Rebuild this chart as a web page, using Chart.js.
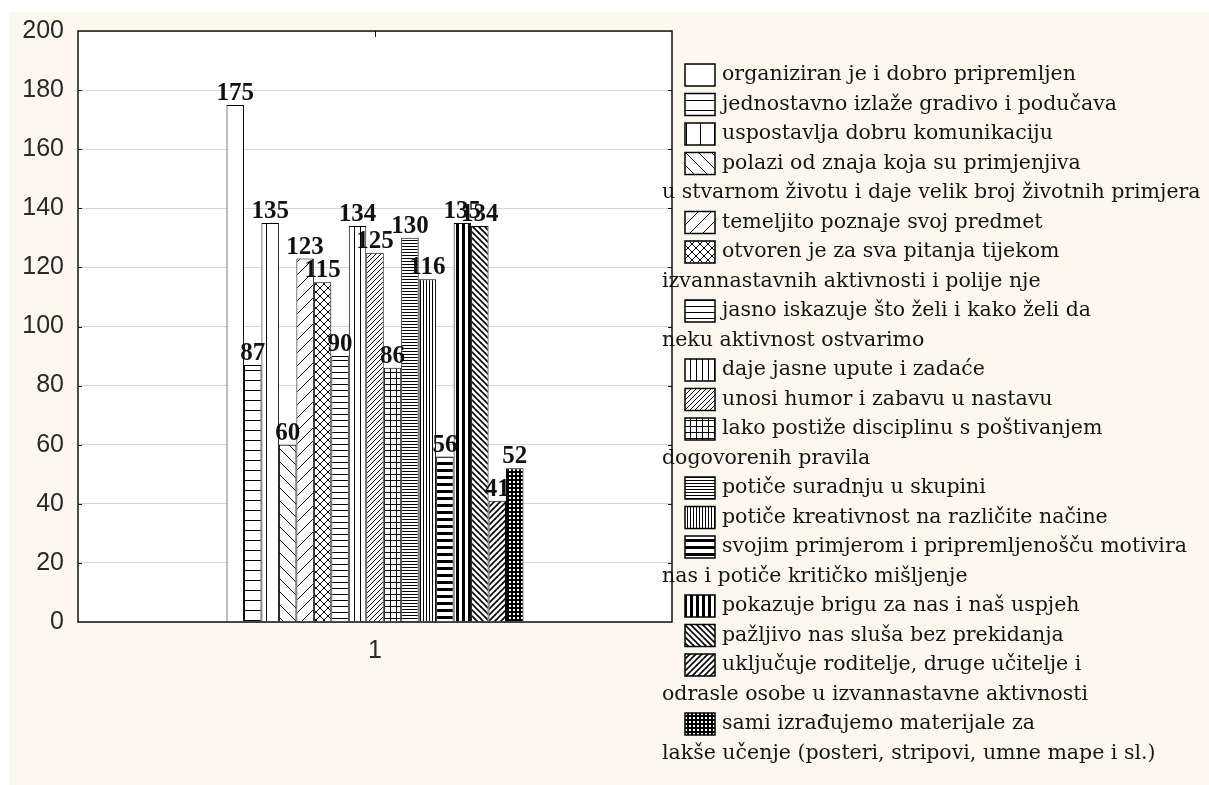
<!DOCTYPE html>
<html>
<head>
<meta charset="utf-8">
<script src="https://cdn.jsdelivr.net/npm/chart.js@4.4.1/dist/chart.umd.min.js"></script>
<style>
  html, body { margin: 0; padding: 0; background: #fff; }
  #wrap { width: 1209px; height: 785px; }
</style>
</head>
<body>
<div id="wrap"><canvas id="chart" width="1209" height="785"></canvas></div>
<script>
// --- Data ---
const categories = ['1'];
const seriesValues = [175, 87, 135, 60, 123, 115, 90, 134, 125, 86, 130, 116, 56, 135, 134, 41, 52];
const seriesNames = [
    'organiziran je i dobro pripremljen',
    'jednostavno izlaže gradivo i podučava',
    'uspostavlja dobru komunikaciju',
    'polazi od znaja koja su primjenjiva\nu stvarnom životu i daje velik broj životnih primjera',
    'temeljito poznaje svoj predmet',
    'otvoren je za sva pitanja tijekom\nizvannastavnih aktivnosti i polije nje',
    'jasno iskazuje što želi i kako želi da\nneku aktivnost ostvarimo',
    'daje jasne upute i zadaće',
    'unosi humor i zabavu u nastavu',
    'lako postiže disciplinu s poštivanjem\ndogovorenih pravila',
    'potiče suradnju u skupini',
    'potiče kreativnost na različite načine',
    'svojim primjerom i pripremljenošču motivira\nnas i potiče kritičko mišljenje',
    'pokazuje brigu za nas i naš uspjeh',
    'pažljivo nas sluša bez prekidanja',
    'uključuje roditelje, druge učitelje i\nodrasle osobe u izvannastavne aktivnosti',
    'sami izrađujemo materijale za\nlakše učenje (posteri, stripovi, umne mape i sl.)'
];
const yMin = 0, yMax = 200, yStep = 20;

// --- Hatch patterns (one per series) ---
const tile = (size, draw) => {
    const c = document.createElement('canvas');
    c.width = size; c.height = size;
    const g = c.getContext('2d');
    g.fillStyle = '#fff';
    g.fillRect(0, 0, size, size);
    g.strokeStyle = '#000';
    g.fillStyle = '#000';
    draw(g, size);
    return document.createElement('canvas').getContext('2d').createPattern(c, 'repeat');
};
const hLines = (gap, w) => tile(gap, (g, s) => g.fillRect(0, 0, s, w));
const vLines = (gap, w) => tile(gap, (g, s) => g.fillRect(0, 0, w, s));
const diag = (gap, w, back) => tile(gap, (g, s) => {
    g.lineWidth = w;
    g.beginPath();
    if (back) {
        g.moveTo(-1, -1); g.lineTo(s + 1, s + 1);
        g.moveTo(-1, s - 1); g.lineTo(1, s + 1);
        g.moveTo(s - 1, -1); g.lineTo(s + 1, 1);
    } else {
        g.moveTo(-1, s + 1); g.lineTo(s + 1, -1);
        g.moveTo(-1, 1); g.lineTo(1, -1);
        g.moveTo(s - 1, s + 1); g.lineTo(s + 1, s - 1);
    }
    g.stroke();
});
const cross = (gap) => tile(gap, (g, s) => {
    g.lineWidth = 1;
    g.beginPath();
    g.moveTo(0, 0); g.lineTo(s, s);
    g.moveTo(0, s); g.lineTo(s, 0);
    g.stroke();
});
const grid = (gap) => tile(gap, (g, s) => { g.fillRect(0, 0, s, 1); g.fillRect(0, 0, 1, s); });
const dots = (gap) => tile(gap, (g, s) => {
    g.fillRect(0, 0, s, s);
    g.fillStyle = '#fff';
    g.fillRect(1, 1, 2, 2);
});

const patterns = [
    '#ffffff',
    hLines(10, 1),
    vLines(14, 1),
    diag(13, 1, true),
    diag(13, 1, false),
    cross(8),
    hLines(6, 1),
    vLines(6, 1),
    diag(5, 1, false),
    grid(6),
    hLines(3, 1),
    vLines(3, 1),
    hLines(7, 3),
    vLines(6, 3),
    diag(6, 1.6, true),
    diag(6, 1.6, false),
    dots(4)
];

// --- Plugins ---
const backgroundPlugin = {
    id: 'background',
    beforeDraw(chart) {
        const { ctx, chartArea: a } = chart;
        ctx.save();
        ctx.fillStyle = '#ffffff';
        ctx.fillRect(0, 0, chart.width, chart.height);
        ctx.fillStyle = '#fcf8ee';
        ctx.fillRect(9, 12, chart.width - 9, chart.height - 12);
        ctx.fillStyle = '#ffffff';
        ctx.fillRect(a.left, a.top, a.right - a.left, a.bottom - a.top);
        ctx.restore();
    }
};

const frameAndLabelsPlugin = {
    id: 'frameAndLabels',
    afterDatasetsDraw(chart) {
        const { ctx, chartArea: a, scales } = chart;
        ctx.save();
        // value labels
        ctx.font = 'bold 25px "Liberation Serif", "Times New Roman", serif';
        ctx.fillStyle = '#111';
        ctx.textAlign = 'center';
        ctx.textBaseline = 'alphabetic';
        chart.data.datasets.forEach((ds, i) => {
            const bar = chart.getDatasetMeta(i).data[0];
            ctx.fillText(String(ds.data[0]), bar.x, bar.y - 5);
        });
        // frame
        ctx.strokeStyle = '#111';
        ctx.lineWidth = 1.5;
        ctx.strokeRect(a.left, a.top, a.right - a.left, a.bottom - a.top);
        // inward ticks
        ctx.lineWidth = 1;
        for (let v = yMin + yStep; v < yMax; v += yStep) {
            const y = Math.round(scales.y.getPixelForValue(v)) + 0.5;
            ctx.beginPath();
            ctx.moveTo(a.left, y); ctx.lineTo(a.left + 4, y);
            ctx.moveTo(a.right, y); ctx.lineTo(a.right - 4, y);
            ctx.stroke();
        }
        const cx = Math.round(scales.x.getPixelForValue(0)) + 0.5;
        ctx.beginPath();
        ctx.moveTo(cx, a.top); ctx.lineTo(cx, a.top + 6);
        ctx.stroke();
        ctx.restore();
    }
};

const legendPlugin = {
    id: 'sideLegend',
    afterDraw(chart) {
        const { ctx } = chart;
        const boxX = 685, textX = 722, wrapX = 662;
        const firstY = 75, lineStep = 29.5;
        ctx.save();
        ctx.font = '20.5px "DejaVu Serif", serif';
        ctx.textBaseline = 'middle';
        ctx.textAlign = 'left';
        let line = 0;
        seriesNames.forEach((name, i) => {
            const parts = name.split('\n');
            const y = firstY + line * lineStep;
            ctx.fillStyle = patterns[i];
            ctx.fillRect(boxX, y - 11, 30, 22);
            ctx.strokeStyle = '#000';
            ctx.lineWidth = 1.5;
            ctx.strokeRect(boxX, y - 11, 30, 22);
            ctx.fillStyle = '#151515';
            parts.forEach((p, k) => {
                ctx.fillText(p, k === 0 ? textX : wrapX, firstY + (line + k) * lineStep);
            });
            line += parts.length;
        });
        ctx.restore();
    }
};

// --- Chart ---
const datasets = seriesValues.map((v, i) => ({
    label: seriesNames[i].replace('\n', ' '),
    data: [v],
    backgroundColor: patterns[i],
    borderColor: '#000',
    borderWidth: 1,
    barPercentage: 1.0,
    categoryPercentage: 0.5
}));

const tickFont = { family: '"Liberation Sans", Arial, sans-serif', size: 25 };

new Chart(document.getElementById('chart'), {
    type: 'bar',
    data: { labels: categories, datasets },
    options: {
        responsive: false,
        animation: false,
        layout: { padding: { left: 0, top: 31, right: 537, bottom: 0 } },
        plugins: { legend: { display: false }, tooltip: { enabled: false } },
        scales: {
            x: {
                grid: { display: false, drawTicks: false },
                border: { display: false },
                ticks: { font: tickFont, color: '#2a2a2a', padding: 14 },
                afterFit: s => { s.height = 785 - 622; }
            },
            y: {
                min: yMin,
                max: yMax,
                grid: { color: '#d6d6d6', drawTicks: false },
                border: { display: false },
                ticks: { stepSize: yStep, font: tickFont, color: '#2a2a2a', padding: 14 },
                afterFit: s => { s.width = 78; }
            }
        }
    },
    plugins: [backgroundPlugin, frameAndLabelsPlugin, legendPlugin]
});
</script>
</body>
</html>
